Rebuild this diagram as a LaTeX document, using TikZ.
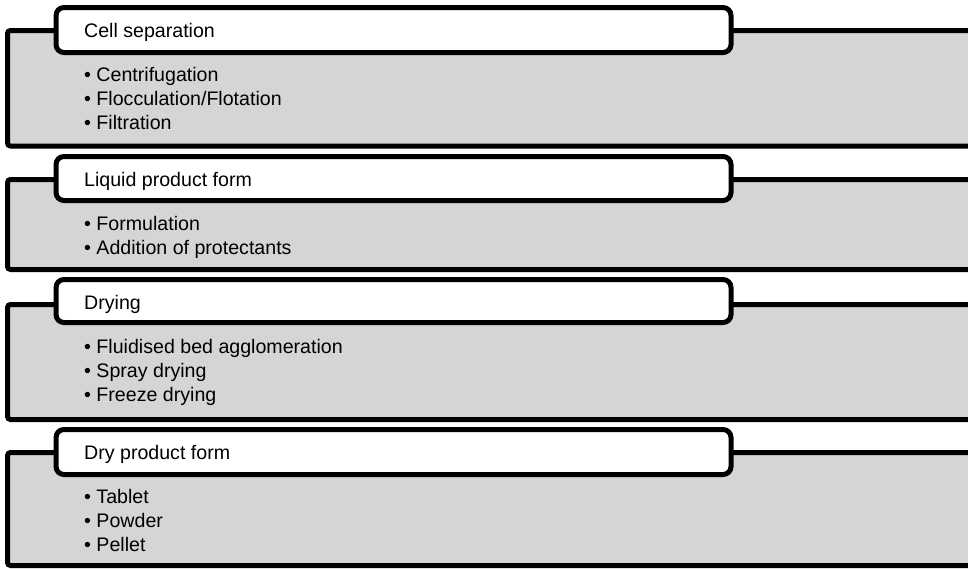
\documentclass[tikz,border=0pt]{standalone}
\usepackage{fontspec}
\setmainfont{Liberation Sans}
\definecolor{panelgray}{RGB}{212,213,215}
\begin{document}
\begin{tikzpicture}[x=1pt,y=-1pt,
  panel/.style={draw=black, line width=5pt, fill=panelgray, rounded corners=3pt},
  tabbox/.style={draw=black, line width=5pt, fill=white, rounded corners=8pt},
  txt/.style={anchor=base west, inner sep=0pt, font=\fontsize{19.6}{24}\selectfont}]
\useasboundingbox (0,0) rectangle (968,568);
% Section 1
\draw[panel] (7.5,30.5) rectangle (985,146);
\draw[tabbox] (56,7.5) rectangle (731,52.5);
\node[txt] (t1) at (84,37) {Cell separation};
\node[txt] (a1) at (84,81) {• Centrifugation};
\node[txt] (a2) at (84,105) {• Flocculation/Flotation};
\node[txt] (a3) at (84,129) {• Filtration};
% Section 2
\draw[panel] (7.5,179.5) rectangle (985,269.5);
\draw[tabbox] (56,156.5) rectangle (731,200.5);
\node[txt] (t2) at (84,186) {Liquid product form};
\node[txt] (b1) at (84,230) {• Formulation};
\node[txt] (b2) at (84,254) {• Addition of protectants};
% Section 3
\draw[panel] (7.5,304.5) rectangle (985,419.5);
\draw[tabbox] (56,279.5) rectangle (731,322.5);
\node[txt] (t3) at (84,309.5) {Drying};
\node[txt] (c1) at (84,353) {• Fluidised bed agglomeration};
\node[txt] (c2) at (84,377) {• Spray drying};
\node[txt] (c3) at (84,401) {• Freeze drying};
% Section 4
\draw[panel] (7.5,452.5) rectangle (985,565.5);
\draw[tabbox] (56,429.5) rectangle (731,474.5);
\node[txt] (t4) at (84,459) {Dry product form};
\node[txt] (d1) at (84,503) {• Tablet};
\node[txt] (d2) at (84,527) {• Powder};
\node[txt] (d3) at (84,551) {• Pellet};
\end{tikzpicture}
\end{document}
